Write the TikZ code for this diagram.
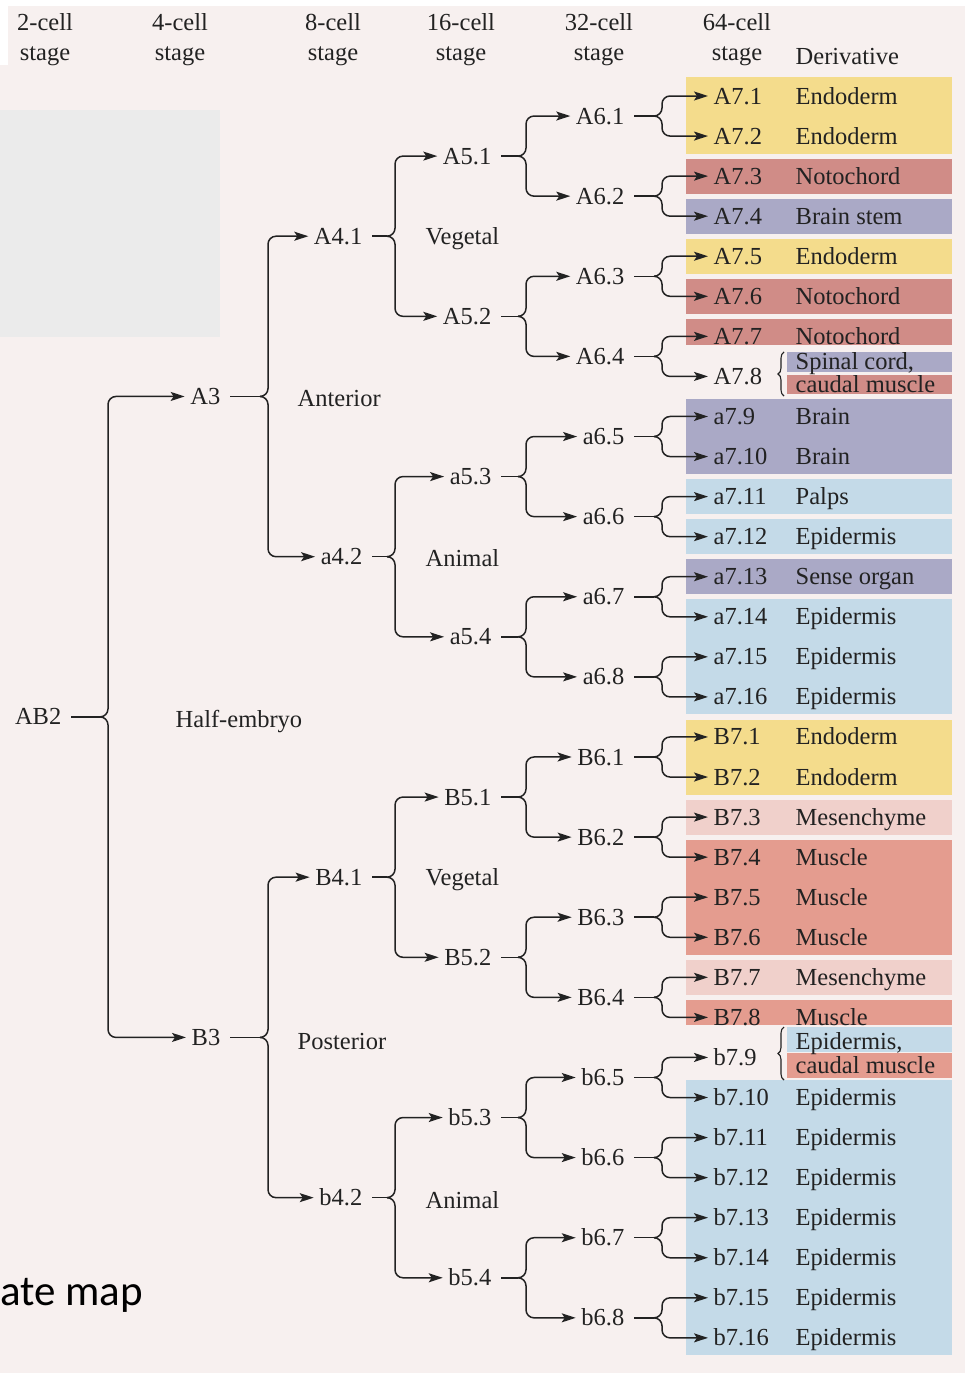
\documentclass[tikz,border=0pt]{standalone}
\usepackage{fontspec}
\setmainfont{Liberation Serif}
\newfontfamily\capfont{Carlito}
\usetikzlibrary{arrows.meta,calc,decorations.pathreplacing}
\definecolor{bgpink}{HTML}{F7F0EF}
\definecolor{boxgray}{HTML}{EBEBEB}
\definecolor{endo}{HTML}{F4DC8C}
\definecolor{noto}{HTML}{D08C87}
\definecolor{neur}{HTML}{AAA9C6}
\definecolor{epid}{HTML}{C4DAE8}
\definecolor{mesen}{HTML}{F0D0CB}
\definecolor{musc}{HTML}{E49C8F}
\definecolor{ink}{HTML}{222222}
\newcommand\brsplit[4]{%
  \coordinate (tmpx) at (#4,0);
  \coordinate (k#1) at (tmpx |- #1);
  \coordinate (c#1) at ($(k#1)+(-8,0)$);
  \draw[conn,lead] (#1.east) -- (c#1);
  \draw[conn,arr,rounded corners=8pt] (c#1) -- (k#1) -- (k#1 |- #2) -- (#2.west);
  \draw[conn,arr,rounded corners=8pt] (c#1) -- (k#1) -- (k#1 |- #3) -- (#3.west);
}
\newcommand\bandrect[3]{\fill[#1] (686,#2) rectangle (952,#3);}
\begin{document}
\begin{tikzpicture}[x=1pt,y=-1pt,
  lbl/.style={inner sep=2.5pt, text height=16pt, text depth=0pt, font=\fontsize{24.5}{30}\selectfont, text=ink},
  hdr/.style={inner sep=0pt, align=center, font=\fontsize{24.5}{30}\selectfont, text=ink},
  conn/.style={draw=ink, line width=1.5pt},
  arr/.style={-{Stealth[length=14pt,width=9pt,inset=3pt]}, shorten >=3pt},
  lead/.style={shorten <=7pt},
  brc/.style={draw=ink, line width=1.1pt, decorate, decoration={brace, amplitude=6pt}}
]
\useasboundingbox (0,0) rectangle (965,1373);
\clip (0,0) rectangle (965,1373);
% background
\fill[white] (0,0) rectangle (965,1373);
\fill[bgpink] (0,6) rectangle (965,1373);
\fill[white] (0,0) rectangle (8,65);
\fill[boxgray] (0,110) rectangle (220,337);
% bands
\bandrect{endo}{77}{153.5}
\bandrect{noto}{158.6}{193.6}
\bandrect{neur}{198.7}{233.7}
\bandrect{endo}{238.7}{273.7}
\bandrect{noto}{278.8}{313.8}
\bandrect{noto}{318.9}{345}
\fill[neur] (787,352) rectangle (952,372);
\fill[noto] (787,375) rectangle (952,394);
\bandrect{neur}{399}{474}
\bandrect{epid}{479.1}{514.1}
\bandrect{epid}{519.2}{554.2}
\bandrect{neur}{559.2}{594.2}
\bandrect{epid}{599.3}{714.4}
\bandrect{endo}{719.5}{794.5}
\bandrect{mesen}{799.6}{834.6}
\bandrect{musc}{839.6}{954.8}
\bandrect{mesen}{959.8}{994.8}
\bandrect{musc}{999.9}{1025}
\fill[epid] (787,1027) rectangle (952,1052);
\fill[musc] (787,1053) rectangle (952,1078);
\bandrect{epid}{1080}{1355.4}
% headers
\node[hdr] (h2) at (45,40) {2-cell\\stage};
\node[hdr] (h4) at (180,40) {4-cell\\stage};
\node[hdr] (h8) at (333,40) {8-cell\\stage};
\node[hdr] (h16) at (461,40) {16-cell\\stage};
\node[hdr] (h32) at (599,40) {32-cell\\stage};
\node[hdr] (h64) at (737,40) {64-cell\\stage};
\node[lbl,anchor=west] (hder) at (793,56) {Derivative};
% 64-cell
\foreach \lab [count=\i] in {A7.1,A7.2,A7.3,A7.4,A7.5,A7.6,A7.7,A7.8,a7.9,a7.10,a7.11,a7.12,a7.13,a7.14,a7.15,a7.16,B7.1,B7.2,B7.3,B7.4,B7.5,B7.6,B7.7,B7.8,b7.9,b7.10,b7.11,b7.12,b7.13,b7.14,b7.15,b7.16}{
  \pgfmathsetmacro\yy{96+40.06*(\i-1)}
  \node[lbl,anchor=west] (r\i) at (711,\yy) {\lab};
}
% 32-cell
\foreach \lab [count=\i] in {A6.1,A6.2,A6.3,A6.4,a6.5,a6.6,a6.7,a6.8,B6.1,B6.2,B6.3,B6.4,b6.5,b6.6,b6.7,b6.8}{
  \pgfmathsetmacro\yy{96+40.06*(2*\i-1.5)}
  \node[lbl,anchor=east] (p\i) at (627,\yy) {\lab};
}
% 16-cell
\foreach \lab [count=\i] in {A5.1,A5.2,a5.3,a5.4,B5.1,B5.2,b5.3,b5.4}{
  \pgfmathsetmacro\yy{96+40.06*(4*\i-2.5)}
  \node[lbl,anchor=east] (q\i) at (494,\yy) {\lab};
}
% 8-cell
\foreach \lab [count=\i] in {A4.1,a4.2,B4.1,b4.2}{
  \pgfmathsetmacro\yy{96+40.06*(8*\i-4.5)}
  \node[lbl,anchor=east] (s\i) at (365,\yy) {\lab};
}
% 4-cell
\foreach \lab [count=\i] in {A3,B3}{
  \pgfmathsetmacro\yy{96+40.06*(16*\i-8.5)}
  \node[lbl,anchor=east] (t\i) at (223,\yy) {\lab};
}
% 2-cell
\node[lbl,anchor=east] (u1) at (64,716.9) {AB2};
% connectors
\brsplit{u1}{t1}{t2}{108}
\foreach \i in {1,2}{
  \pgfmathtruncatemacro\a{2*\i-1}\pgfmathtruncatemacro\b{2*\i}
  \brsplit{t\i}{s\a}{s\b}{268}
}
\foreach \i in {1,...,4}{
  \pgfmathtruncatemacro\a{2*\i-1}\pgfmathtruncatemacro\b{2*\i}
  \brsplit{s\i}{q\a}{q\b}{395}
}
\foreach \i in {1,...,8}{
  \pgfmathtruncatemacro\a{2*\i-1}\pgfmathtruncatemacro\b{2*\i}
  \brsplit{q\i}{p\a}{p\b}{526}
}
\foreach \i in {1,...,16}{
  \pgfmathtruncatemacro\a{2*\i-1}\pgfmathtruncatemacro\b{2*\i}
  \brsplit{p\i}{r\a}{r\b}{662}
}
% section labels
\node[lbl,anchor=west] (sHalf) at (173,719) {Half-embryo};
\node[lbl,anchor=west] (sAnt) at (295,398) {Anterior};
\node[lbl,anchor=west] (sPost) at (295,1041) {Posterior};
\node[lbl,anchor=west] (sVeg1) at (423,236) {Vegetal};
\node[lbl,anchor=west] (sAni1) at (423,558) {Animal};
\node[lbl,anchor=west] (sVeg2) at (423,877) {Vegetal};
\node[lbl,anchor=west] (sAni2) at (423,1200) {Animal};
% derivatives
\foreach \i/\d in {1/Endoderm,2/Endoderm,3/Notochord,4/Brain stem,5/Endoderm,6/Notochord,7/Notochord,9/Brain,10/Brain,11/Palps,12/Epidermis,13/Sense organ,14/Epidermis,15/Epidermis,16/Epidermis,17/Endoderm,18/Endoderm,19/Mesenchyme,20/Muscle,21/Muscle,22/Muscle,23/Mesenchyme,24/Muscle,26/Epidermis,27/Epidermis,28/Epidermis,29/Epidermis,30/Epidermis,31/Epidermis,32/Epidermis}{
  \pgfmathsetmacro\yy{96+40.06*(\i-1)}
  \node[lbl,anchor=west] (d\i) at (793,\yy) {\d};
}
\node[lbl,anchor=west] (d8a) at (793,361) {Spinal cord,};
\node[lbl,anchor=west] (d8b) at (793,384) {caudal muscle};
\node[lbl,anchor=west] (d25a) at (793,1041) {Epidermis,};
\node[lbl,anchor=west] (d25b) at (793,1065) {caudal muscle};
\draw[brc] (784,396) -- (784,352);
\draw[brc] (784,1080) -- (784,1027);
% caption fragment
\node[anchor=base east, inner sep=0pt, font=\capfont\fontsize{43}{50}\selectfont, text=black] (cap) at (143,1305) {ate map};
\end{tikzpicture}
\end{document}
